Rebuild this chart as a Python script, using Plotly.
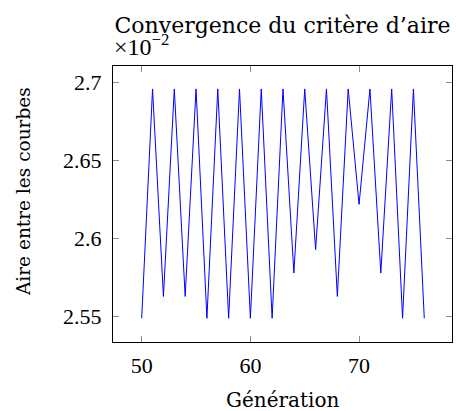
import plotly.graph_objects as go

generations = list(range(50, 77))
aire = [0.02549, 0.02696, 0.02563, 0.02696, 0.02563, 0.02696, 0.02549, 0.02696,
        0.02549, 0.02696, 0.02549, 0.02696, 0.02549, 0.02696, 0.02578, 0.02696,
        0.02593, 0.02696, 0.02563, 0.02696, 0.02622, 0.02696, 0.02578, 0.02696,
        0.02549, 0.02696, 0.02549]
scale = 1e-2
y_ticks = [2.55, 2.6, 2.65, 2.7]
y_labels = ["2.55", "2.6", "2.65", "2.7"]
x_ticks = [50, 60, 70]

TEXT_FONT = "DejaVu Serif"
NUM_FONT = "Liberation Serif"

L, R, T, B = 113, 452, 66, 342
W, H = 456, 411
PW, PH = R - L, B - T

fig = go.Figure()
fig.add_trace(go.Scatter(x=generations, y=[v / scale for v in aire], mode="lines",
                         line=dict(color="#0000ff", width=1), hoverinfo="skip"))

axis_common = dict(showgrid=False, zeroline=False, showline=True, linecolor="black",
                   linewidth=1, mirror="allticks", ticks="inside", ticklen=6,
                   tickcolor="#8c8c8c", tickwidth=1, automargin=False,
                   tickfont=dict(family=NUM_FONT, size=22, color="black"))

fig.update_layout(
    width=W, height=H,
    margin=dict(l=L, r=W - R, t=T, b=H - B),
    paper_bgcolor="white", plot_bgcolor="white",
    showlegend=False,
    font=dict(family=TEXT_FONT, color="black"),
    title=dict(text="Convergence du critère d’aire", x=282.5 / W, xanchor="center",
               xref="container", yref="container",
               y=1 - 25 / H, yanchor="middle", font=dict(family=TEXT_FONT, size=22)),
    xaxis=dict(range=[47.36, 78.55], tickvals=x_ticks, ticklabelstandoff=4, **axis_common),
    yaxis=dict(range=[2.5338, 2.7107], tickvals=y_ticks, ticktext=y_labels,
               ticklabelstandoff=6, **axis_common),
)
# axis titles
fig.add_annotation(text="Génération", xref="paper", yref="paper",
                   x=(282 - L) / PW, y=(B - 400) / PH, xanchor="center", yanchor="middle",
                   showarrow=False, font=dict(family=TEXT_FONT, size=20))
fig.add_annotation(text="Aire entre les courbes", xref="paper", yref="paper",
                   x=(23 - L) / PW, y=(B - 191) / PH, xanchor="center", yanchor="middle",
                   textangle=-90, showarrow=False, font=dict(family=TEXT_FONT, size=18.5))
fig.add_annotation(text="×10<sup>−2</sup>", xref="paper", yref="paper", x=(112 - L) / PW,
                   y=(B - 62) / PH, xanchor="left", yanchor="bottom", showarrow=False,
                   font=dict(family=NUM_FONT, size=24))
fig.write_html("out.html", config={"displayModeBar": False},
               post_script="document.body.style.margin='0px';document.body.style.overflow='hidden';")
